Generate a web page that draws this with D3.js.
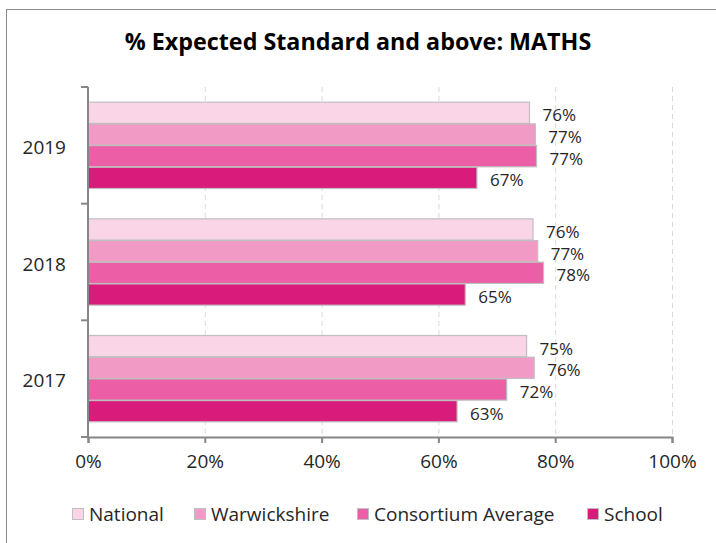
<!DOCTYPE html>
<html>
<head>
<meta charset="utf-8">
<script src="https://cdn.jsdelivr.net/npm/d3@7"></script>
<style>
  body { margin: 0; background: #fff; }
  svg { display: block; font-family: "Open Sans", "Noto Sans", sans-serif; }
</style>
</head>
<body>
<div id="chart"></div>
<script>
const years = ['2019', '2018', '2017'];
const seriesNames = ['National', 'Warwickshire', 'Consortium Average', 'School'];
const seriesColors = ['#f9d5e7', '#f29ac6', '#ec5fa6', '#d91b7b'];
// values per series, in the order of years
const national = [75.6, 76.2, 75.1];
const warwickshire = [76.6, 77.0, 76.4];
const consortium = [76.8, 78.0, 71.7];
const school = [66.6, 64.6, 63.2];
const xTicks = [0, 20, 40, 60, 80, 100];

const seriesValues = [national, warwickshire, consortium, school];

const width = 716, height = 543;
const margin = { top: 87, left: 88, right: 44, bottom: 106 };

const svg = d3.select('#chart')
    .append('svg')
    .attr('width', width)
    .attr('height', height);

// chart frame (cut off on the right and bottom, like the source)
svg.append('rect')
    .attr('x', 6.5).attr('y', 9.5)
    .attr('width', width + 10).attr('height', height + 10)
    .attr('fill', 'none')
    .attr('stroke', '#8c8c8c')
    .attr('stroke-width', 1);

svg.append('text')
    .attr('x', 358).attr('y', 50)
    .attr('text-anchor', 'middle')
    .attr('font-size', 23.3)
    .attr('font-weight', 'bold')
    .attr('fill', '#000')
    .text('% Expected Standard and above: MATHS');

const x = d3.scaleLinear()
    .domain([0, 100])
    .range([margin.left, width - margin.right]);

const y = d3.scaleBand()
    .domain(years)
    .range([margin.top, height - margin.bottom]);

const inner = d3.scaleBand()
    .domain(d3.range(seriesNames.length))
    .range([0, y.bandwidth()])
    .paddingOuter(0.7)
    .paddingInner(0.02);

// dashed gridlines
svg.append('g')
    .selectAll('line')
    .data(xTicks.slice(1))
    .join('line')
    .attr('x1', d => x(d) + 0.5).attr('x2', d => x(d) + 0.5)
    .attr('y1', y.range()[0]).attr('y2', y.range()[1])
    .attr('stroke', '#d9d9d9')
    .attr('stroke-dasharray', '5,4');

// bars
seriesValues.forEach((vals, si) => {
    const rows = years.map((yr, i) => ({ yr, v: vals[i] }));

    svg.append('g')
        .selectAll('rect')
        .data(rows)
        .join('rect')
        .attr('x', x(0))
        .attr('y', d => y(d.yr) + inner(si))
        .attr('width', d => x(d.v) - x(0))
        .attr('height', inner.bandwidth())
        .attr('fill', seriesColors[si])
        .attr('stroke', '#bfbfbf')
        .attr('stroke-width', 1.2);

    svg.append('g')
        .selectAll('text')
        .data(rows)
        .join('text')
        .attr('x', d => x(d.v) + 13)
        .attr('y', d => y(d.yr) + inner(si) + inner.bandwidth() / 2 + 2.5)
        .attr('dy', '0.35em')
        .attr('font-size', 17)
        .attr('fill', '#262626')
        .text(d => Math.round(d.v) + '%');
});

// x axis
const xAxis = svg.append('g')
    .attr('transform', `translate(0,${y.range()[1]})`)
    .call(d3.axisBottom(x).tickValues(xTicks).tickFormat(d => d + '%').tickSize(6).tickPadding(12));
xAxis.select('.domain').attr('stroke', '#868686').attr('stroke-width', 2);
xAxis.selectAll('.tick line').attr('stroke', '#868686').attr('stroke-width', 2);
xAxis.selectAll('text').attr('font-size', 19).attr('fill', '#262626')
    .attr('font-family', '"Open Sans", "Noto Sans", sans-serif');

// y axis with ticks on category boundaries
const yAxis = svg.append('g')
    .attr('transform', `translate(${x(0)},0)`);
yAxis.append('line')
    .attr('y1', y.range()[0]).attr('y2', y.range()[1])
    .attr('stroke', '#868686').attr('stroke-width', 2);
yAxis.selectAll('.bnd')
    .data(years.map(yr => y(yr)).concat([y.range()[1]]))
    .join('line')
    .attr('x1', -7).attr('x2', 0)
    .attr('y1', d => d).attr('y2', d => d)
    .attr('stroke', '#868686').attr('stroke-width', 2);
yAxis.selectAll('text')
    .data(years)
    .join('text')
    .attr('x', -22)
    .attr('y', d => y(d) + y.bandwidth() / 2 + 2)
    .attr('dy', '0.35em')
    .attr('text-anchor', 'end')
    .attr('font-size', 19)
    .attr('fill', '#262626')
    .text(d => d);

// legend
const legendX = [72, 194, 357, 587];
const legend = svg.append('g');
seriesNames.forEach((name, i) => {
    legend.append('rect')
        .attr('x', legendX[i] + 0.5).attr('y', 508.5)
        .attr('width', 11).attr('height', 11)
        .attr('fill', seriesColors[i])
        .attr('stroke', '#bfbfbf');
    legend.append('text')
        .attr('x', legendX[i] + 17).attr('y', 514)
        .attr('dy', '0.35em')
        .attr('font-size', 19)
        .attr('fill', '#262626')
        .text(name);
});
</script>
</body>
</html>
